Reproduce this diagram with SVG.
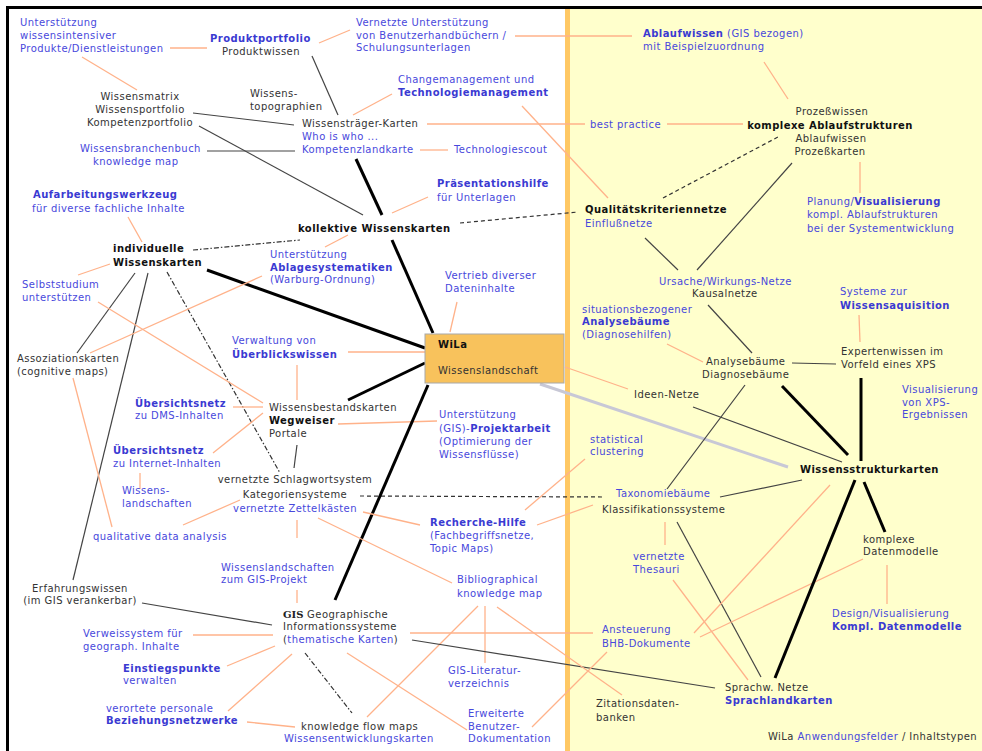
<svg xmlns="http://www.w3.org/2000/svg" width="982" height="751" viewBox="0 0 982 751">
<style>
  text { font-family: "DejaVu Sans", Verdana, sans-serif; font-size: 10px; letter-spacing: 0.45px; fill: #333; }
  .bl { fill: #4848dc; }
  .bb { fill: #3a3ad2; font-weight: bold; }
  .kb { fill: #111; font-weight: bold; }
  .sf { font-family: "DejaVu Serif", "Liberation Serif", serif; font-weight: bold; fill: #222; letter-spacing: 0; }
  .mid { text-anchor: middle; }
  .o { stroke: #ffb28a; stroke-width: 1.3; fill: none; }
  .k { stroke: #444; stroke-width: 1.2; fill: none; }
  .K { stroke: #000; stroke-width: 3; fill: none; }
  .d { stroke: #333; stroke-width: 1.2; stroke-dasharray: 4 3; fill: none; }
  .dd { stroke: #333; stroke-width: 1.2; stroke-dasharray: 5 2 1.5 2; fill: none; }
  .g { stroke: #c8c8d6; stroke-width: 3; fill: none; }
</style>

<!-- background: white knowledge half, yellow structure half -->
<rect x="0" y="0" width="982" height="751" fill="#ffffff"/>
<rect x="567" y="8" width="415" height="743" fill="#ffffcc"/>
<rect x="565" y="8" width="5" height="743" fill="#ffc864"/>
<line x1="6" y1="7.5" x2="982" y2="7.5" stroke="#000" stroke-width="3"/>
<line x1="7.5" y1="6" x2="7.5" y2="751" stroke="#000" stroke-width="3"/>

<!-- connectors -->
<g id="connectors">
  <line class="o" x1="170" y1="48" x2="207" y2="48"/>
  <line class="o" x1="82" y1="57" x2="137" y2="90"/>
  <line class="o" x1="319" y1="43" x2="350" y2="30"/>
  <line class="o" x1="515" y1="36" x2="632" y2="36"/>
  <line class="k" x1="312" y1="56" x2="338" y2="115"/>
  <line class="o" x1="353" y1="115" x2="392" y2="94"/>
  <line class="o" x1="522" y1="106" x2="608" y2="198"/>
  <line class="o" x1="427" y1="124" x2="585" y2="124"/>
  <line class="o" x1="667" y1="124" x2="743" y2="124"/>
  <line class="o" x1="764" y1="62" x2="788" y2="99"/>
  <line class="k" x1="193" y1="113" x2="294" y2="125"/>
  <line class="k" x1="207" y1="151" x2="295" y2="151"/>
  <line class="k" x1="199" y1="126" x2="363" y2="215"/>
  <line class="o" x1="420" y1="150" x2="448" y2="150"/>
  <line class="K" x1="356" y1="159" x2="382" y2="215"/>
  <line class="o" x1="392" y1="213" x2="428" y2="197"/>
  <line class="d" x1="460" y1="223" x2="578" y2="212"/>
  <line class="d" x1="663" y1="198" x2="778" y2="137"/>
  <line class="o" x1="860" y1="162" x2="860" y2="193"/>
  <line class="k" x1="645" y1="238" x2="678" y2="270"/>
  <line class="k" x1="792" y1="163" x2="697" y2="270"/>
  <line class="o" x1="128" y1="217" x2="142" y2="242"/>
  <line class="dd" x1="193" y1="250" x2="300" y2="240"/>
  <line class="o" x1="325" y1="247" x2="348" y2="235"/>
  <line class="K" x1="392" y1="240" x2="433" y2="333"/>
  <line class="o" x1="78" y1="275" x2="110" y2="264"/>
  <line class="K" x1="207" y1="270" x2="425" y2="348"/>
  <line class="k" x1="135" y1="273" x2="77" y2="353"/>
  <line class="k" x1="148" y1="273" x2="73" y2="580"/>
  <line class="dd" x1="167" y1="272" x2="280" y2="473"/>
  <line class="o" x1="90" y1="353" x2="262" y2="276"/>
  <line class="o" x1="98" y1="302" x2="263" y2="403"/>
  <line class="o" x1="73" y1="378" x2="112" y2="527"/>
  <line class="o" x1="233" y1="407" x2="263" y2="407"/>
  <line class="o" x1="213" y1="453" x2="263" y2="413"/>
  <line class="o" x1="140" y1="473" x2="140" y2="489"/>
  <line class="o" x1="183" y1="525" x2="240" y2="500"/>
  <line class="o" x1="457" y1="302" x2="450" y2="332"/>
  <line class="o" x1="348" y1="352" x2="425" y2="352"/>
  <line class="o" x1="297" y1="365" x2="297" y2="400"/>
  <line class="K" x1="348" y1="400" x2="425" y2="363" stroke-width="2.5"/>
  <line class="o" x1="338" y1="424" x2="437" y2="421"/>
  <line class="k" x1="297" y1="445" x2="294" y2="468"/>
  <line class="d" x1="360" y1="496" x2="605" y2="497"/>
  <line class="k" x1="720" y1="497" x2="802" y2="480"/>
  <line class="K" x1="428" y1="385" x2="335" y2="600"/>
  <line class="o" x1="565" y1="367" x2="628" y2="389"/>
  <line class="g" x1="540" y1="384" x2="788" y2="467"/>
  <line class="k" x1="693" y1="407" x2="842" y2="462"/>
  <line class="k" x1="708" y1="305" x2="752" y2="353"/>
  <line class="o" x1="667" y1="344" x2="703" y2="362"/>
  <line class="k" x1="745" y1="385" x2="667" y2="489"/>
  <line class="k" x1="792" y1="363" x2="836" y2="364"/>
  <line class="o" x1="859" y1="315" x2="860" y2="342"/>
  <line class="K" x1="861" y1="378" x2="861" y2="461"/>
  <line class="K" x1="782" y1="386" x2="848" y2="455"/>
  <line class="o" x1="585" y1="459" x2="525" y2="510"/>
  <line class="o" x1="537" y1="525" x2="593" y2="505"/>
  <line class="o" x1="665" y1="522" x2="665" y2="545"/>
  <line class="k" x1="677" y1="522" x2="761" y2="677"/>
  <line class="o" x1="673" y1="580" x2="748" y2="680"/>
  <line class="o" x1="830" y1="485" x2="694" y2="633"/>
  <line class="o" x1="863" y1="559" x2="700" y2="637"/>
  <line class="K" x1="855" y1="480" x2="775" y2="678"/>
  <line class="K" x1="864" y1="482" x2="885" y2="532"/>
  <line class="o" x1="887" y1="565" x2="887" y2="604"/>
  <line class="o" x1="363" y1="512" x2="420" y2="525"/>
  <line class="o" x1="318" y1="518" x2="452" y2="583"/>
  <line class="o" x1="297" y1="520" x2="297" y2="538"/>
  <line class="o" x1="297" y1="590" x2="297" y2="603"/>
  <line class="k" x1="142" y1="603" x2="272" y2="625"/>
  <line class="o" x1="193" y1="635" x2="273" y2="635"/>
  <line class="o" x1="227" y1="666" x2="275" y2="646"/>
  <line class="o" x1="228" y1="711" x2="292" y2="654"/>
  <line class="o" x1="247" y1="722" x2="295" y2="727"/>
  <line class="dd" x1="305" y1="653" x2="352" y2="713"/>
  <line class="o" x1="347" y1="653" x2="467" y2="730"/>
  <line class="o" x1="367" y1="717" x2="478" y2="606"/>
  <line class="o" x1="485" y1="606" x2="485" y2="663"/>
  <line class="o" x1="410" y1="633" x2="593" y2="633"/>
  <line class="k" x1="412" y1="640" x2="715" y2="688"/>
  <line class="o" x1="497" y1="607" x2="622" y2="695"/>
  <line class="o" x1="607" y1="652" x2="532" y2="727"/>
</g>

<!-- central node -->
<g id="wila">
  <rect x="425" y="334" width="139" height="49" fill="#f8c25c" stroke="#a8a8a8" stroke-width="1"/>
  <text x="438" y="348" class="kb">WiLa</text>
  <text x="438" y="374">Wissenslandschaft</text>
</g>

<!-- nodes, white side -->
<g id="n-unterstuetzung-produkte">
  <text x="20" y="26" class="bl">Unterstützung</text>
  <text x="20" y="39" class="bl">wissensintensiver</text>
  <text x="20" y="52" class="bl">Produkte/Dienstleistungen</text>
</g>
<g id="n-produktportfolio">
  <text x="210" y="42" class="bb">Produktportfolio</text>
  <text x="222" y="55">Produktwissen</text>
</g>
<g id="n-benutzerhandbuecher">
  <text x="356" y="26" class="bl">Vernetzte Unterstützung</text>
  <text x="356" y="39" class="bl">von Benutzerhandbüchern /</text>
  <text x="356" y="51" class="bl">Schulungsunterlagen</text>
</g>
<g id="n-wissensmatrix">
  <text x="140" y="100" class="mid">Wissensmatrix</text>
  <text x="140" y="113" class="mid">Wissensportfolio</text>
  <text x="140" y="126" class="mid">Kompetenzportfolio</text>
</g>
<g id="n-topographien">
  <text x="250" y="97">Wissens-</text>
  <text x="250" y="110">topographien</text>
</g>
<g id="n-changemanagement">
  <text x="398" y="83" class="bl">Changemanagement und</text>
  <text x="398" y="96" class="bb">Technologiemanagement</text>
</g>
<g id="n-wissenstraeger">
  <text x="302" y="127">Wissensträger-Karten</text>
  <text x="302" y="140" class="bl">Who is who ...</text>
  <text x="302" y="153" class="bl">Kompetenzlandkarte</text>
</g>
<g id="n-technologiescout">
  <text x="454" y="153" class="bl">Technologiescout</text>
</g>
<g id="n-branchenbuch">
  <text x="80" y="152" class="bl">Wissensbranchenbuch</text>
  <text x="93" y="165" class="bl">knowledge map</text>
</g>
<g id="n-praesentationshilfe">
  <text x="437" y="187" class="bb">Präsentationshilfe</text>
  <text x="437" y="201" class="bl">für Unterlagen</text>
</g>
<g id="n-aufarbeitung">
  <text x="33" y="198" class="bb">Aufarbeitungswerkzeug</text>
  <text x="32" y="212" class="bl">für diverse fachliche Inhalte</text>
</g>
<g id="n-kollektive">
  <text x="298" y="232" class="kb">kollektive Wissenskarten</text>
</g>
<g id="n-individuelle">
  <text x="113" y="252" class="kb">individuelle</text>
  <text x="113" y="266" class="kb">Wissenskarten</text>
</g>
<g id="n-ablagesystematiken">
  <text x="270" y="258" class="bl">Unterstützung</text>
  <text x="270" y="271" class="bb">Ablagesystematiken</text>
  <text x="270" y="283" class="bl">(Warburg-Ordnung)</text>
</g>
<g id="n-vertrieb">
  <text x="445" y="279" class="bl">Vertrieb diverser</text>
  <text x="445" y="292" class="bl">Dateninhalte</text>
</g>
<g id="n-selbststudium">
  <text x="22" y="288" class="bl">Selbststudium</text>
  <text x="22" y="301" class="bl">unterstützen</text>
</g>
<g id="n-ueberblickswissen">
  <text x="232" y="344" class="bl">Verwaltung von</text>
  <text x="232" y="358" class="bb">Überblickswissen</text>
</g>
<g id="n-assoziationskarten">
  <text x="17" y="362">Assoziationskarten</text>
  <text x="17" y="375">(cognitive maps)</text>
</g>
<g id="n-dms">
  <text x="135" y="407" class="bb">Übersichtsnetz</text>
  <text x="135" y="419" class="bl">zu DMS-Inhalten</text>
</g>
<g id="n-wegweiser">
  <text x="269" y="411">Wissensbestandskarten</text>
  <text x="269" y="424" class="kb">Wegweiser</text>
  <text x="269" y="437">Portale</text>
</g>
<g id="n-projektarbeit">
  <text x="439" y="418" class="bl">Unterstützung</text>
  <text x="439" y="432" class="bl">(GIS)-<tspan class="bb">Projektarbeit</tspan></text>
  <text x="439" y="445" class="bl">(Optimierung der</text>
  <text x="439" y="458" class="bl">Wissensflüsse)</text>
</g>
<g id="n-internet">
  <text x="113" y="454" class="bb">Übersichtsnetz</text>
  <text x="113" y="467" class="bl">zu Internet-Inhalten</text>
</g>
<g id="n-schlagwortsystem">
  <text x="295" y="483" class="mid">vernetzte Schlagwortsystem</text>
  <text x="295" y="498" class="mid">Kategoriensysteme</text>
  <text x="295" y="512" class="mid bl">vernetzte Zettelkästen</text>
</g>
<g id="n-wissenslandschaften">
  <text x="122" y="494" class="bl">Wissens-</text>
  <text x="122" y="507" class="bl">landschaften</text>
</g>
<g id="n-recherche">
  <text x="430" y="526" class="bb">Recherche-Hilfe</text>
  <text x="430" y="539" class="bl">(Fachbegriffsnetze,</text>
  <text x="430" y="552" class="bl">Topic Maps)</text>
</g>
<g id="n-qualitative">
  <text x="93" y="540" class="bl">qualitative data analysis</text>
</g>
<g id="n-gis-projekt">
  <text x="221" y="571" class="bl">Wissenslandschaften</text>
  <text x="221" y="583" class="bl">zum GIS-Projekt</text>
</g>
<g id="n-bibliographical">
  <text x="457" y="583" class="bl">Bibliographical</text>
  <text x="457" y="597" class="bl">knowledge map</text>
</g>
<g id="n-erfahrungswissen">
  <text x="80" y="592" class="mid">Erfahrungswissen</text>
  <text x="80" y="604" class="mid">(im GIS verankerbar)</text>
</g>
<g id="n-gis">
  <text x="283" y="618"><tspan class="sf">GIS</tspan> Geographische</text>
  <text x="283" y="630">Informationssysteme</text>
  <text x="283" y="643">(<tspan class="bl">thematische Karten</tspan>)</text>
</g>
<g id="n-verweissystem">
  <text x="83" y="637" class="bl">Verweissystem für</text>
  <text x="83" y="650" class="bl">geograph. Inhalte</text>
</g>
<g id="n-einstiegspunkte">
  <text x="123" y="672" class="bb">Einstiegspunkte</text>
  <text x="123" y="684" class="bl">verwalten</text>
</g>
<g id="n-literatur">
  <text x="448" y="674" class="bl">GIS-Literatur-</text>
  <text x="448" y="687" class="bl">verzeichnis</text>
</g>
<g id="n-beziehungsnetzwerke">
  <text x="106" y="712" class="bl">verortete personale</text>
  <text x="106" y="724" class="bb">Beziehungsnetzwerke</text>
</g>
<g id="n-erweiterte">
  <text x="468" y="717" class="bl">Erweiterte</text>
  <text x="468" y="730" class="bl">Benutzer-</text>
  <text x="468" y="742" class="bl">Dokumentation</text>
</g>
<g id="n-knowledgeflow">
  <text x="301" y="730">knowledge flow maps</text>
  <text x="284" y="742" class="bl">Wissensentwicklungskarten</text>
</g>

<!-- nodes, yellow side -->
<g id="n-ablaufwissen-gis">
  <text x="643" y="37" class="bl"><tspan class="bb">Ablaufwissen</tspan> (GIS bezogen)</text>
  <text x="643" y="50" class="bl">mit Beispielzuordnung</text>
</g>
<g id="n-bestpractice">
  <text x="590" y="128" class="bl">best practice</text>
</g>
<g id="n-ablaufstrukturen">
  <text x="832" y="115" class="mid">Prozeßwissen</text>
  <text x="830" y="129" class="mid kb">komplexe Ablaufstrukturen</text>
  <text x="831" y="142" class="mid">Ablaufwissen</text>
  <text x="830" y="155" class="mid">Prozeßkarten</text>
</g>
<g id="n-planung">
  <text x="807" y="205" class="bl">Planung/<tspan class="bb">Visualisierung</tspan></text>
  <text x="807" y="218" class="bl">kompl. Ablaufstrukturen</text>
  <text x="807" y="232" class="bl">bei der Systementwicklung</text>
</g>
<g id="n-qualitaet">
  <text x="585" y="213" class="kb">Qualitätskriteriennetze</text>
  <text x="585" y="227" class="bl">Einflußnetze</text>
</g>
<g id="n-ursache">
  <text x="659" y="285" class="bl">Ursache/Wirkungs-Netze</text>
  <text x="692" y="297">Kausalnetze</text>
</g>
<g id="n-wissensaquisition">
  <text x="840" y="295" class="bl">Systeme zur</text>
  <text x="840" y="309" class="bb">Wissensaquisition</text>
</g>
<g id="n-situationsbezogen">
  <text x="582" y="313" class="bl">situationsbezogener</text>
  <text x="582" y="325" class="bb">Analysebäume</text>
  <text x="582" y="338" class="bl">(Diagnosehilfen)</text>
</g>
<g id="n-expertenwissen">
  <text x="841" y="355">Expertenwissen im</text>
  <text x="841" y="368">Vorfeld eines XPS</text>
</g>
<g id="n-analysebaeume">
  <text x="706" y="365">Analysebäume</text>
  <text x="702" y="378">Diagnosebäume</text>
</g>
<g id="n-xps">
  <text x="902" y="393" class="bl">Visualisierung</text>
  <text x="902" y="406" class="bl">von XPS-</text>
  <text x="902" y="418" class="bl">Ergebnissen</text>
</g>
<g id="n-ideen">
  <text x="634" y="398">Ideen-Netze</text>
</g>
<g id="n-clustering">
  <text x="590" y="443" class="bl">statistical</text>
  <text x="590" y="455" class="bl">clustering</text>
</g>
<g id="n-wissensstruktur">
  <text x="800" y="473" class="kb">Wissensstrukturkarten</text>
</g>
<g id="n-taxonomie">
  <text x="616" y="497" class="bl">Taxonomiebäume</text>
  <text x="602" y="513">Klassifikationssysteme</text>
</g>
<g id="n-datenmodelle">
  <text x="863" y="543">komplexe</text>
  <text x="863" y="555">Datenmodelle</text>
</g>
<g id="n-thesauri">
  <text x="633" y="560" class="bl">vernetzte</text>
  <text x="633" y="573" class="bl">Thesauri</text>
</g>
<g id="n-design">
  <text x="832" y="617" class="bl">Design/Visualisierung</text>
  <text x="832" y="630" class="bb">Kompl. Datenmodelle</text>
</g>
<g id="n-ansteuerung">
  <text x="602" y="633" class="bl">Ansteuerung</text>
  <text x="602" y="647" class="bl">BHB-Dokumente</text>
</g>
<g id="n-sprachlandkarten">
  <text x="725" y="691">Sprachw. Netze</text>
  <text x="725" y="704" class="bb">Sprachlandkarten</text>
</g>
<g id="n-zitation">
  <text x="596" y="707">Zitationsdaten-</text>
  <text x="596" y="721">banken</text>
</g>
<g id="caption">
  <text x="768" y="740">WiLa <tspan class="bl">Anwendungsfelder</tspan> / Inhaltstypen</text>
</g>
</svg>
